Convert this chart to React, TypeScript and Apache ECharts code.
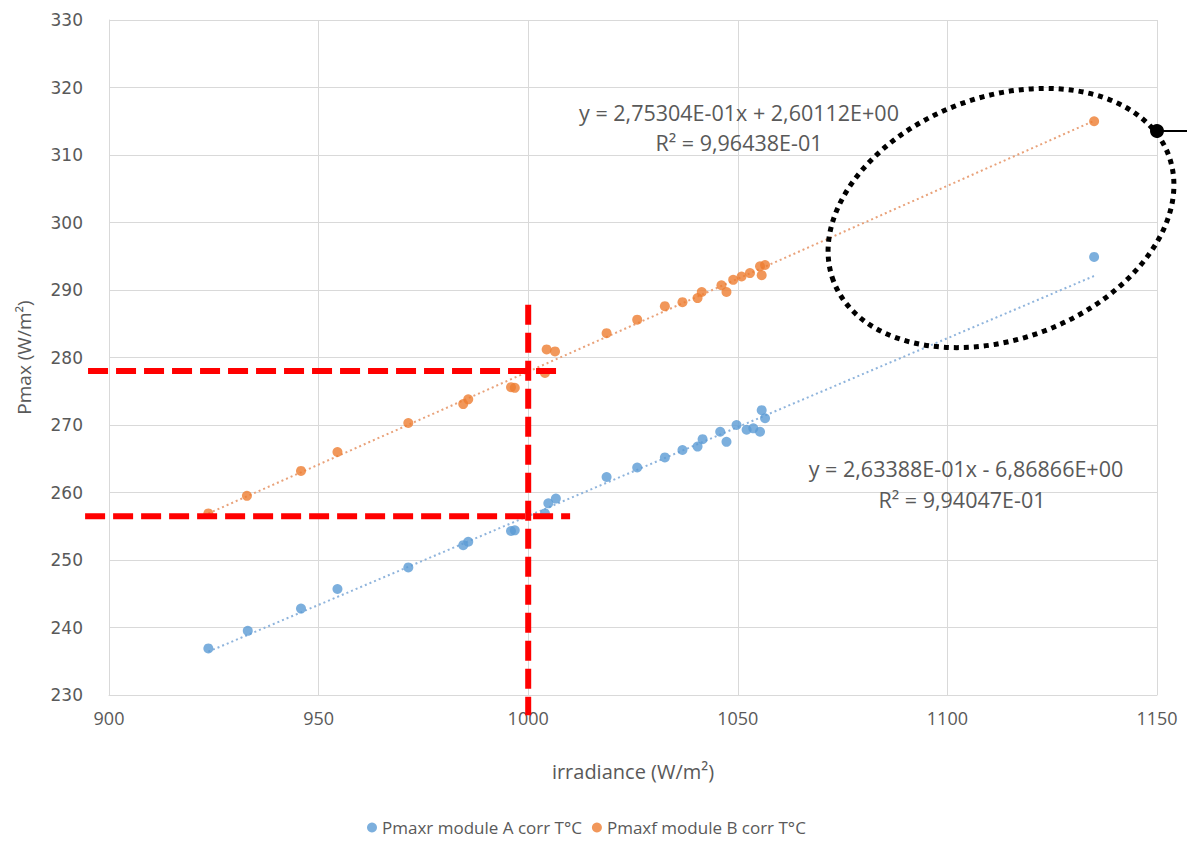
import React, { useEffect, useRef } from "react";
import * as echarts from "echarts";

// Irradiance (W/m²) and Pmax values for module A (blue) and module B (orange)
const irrA = [923.7, 933.1, 945.8, 954.5, 971.4, 984.5, 985.7, 995.9, 996.8, 1004.0, 1004.8, 1006.6, 1018.7, 1026.0, 1032.6, 1036.8, 1040.4, 1041.6, 1045.8, 1047.3, 1049.7, 1052.1, 1053.7, 1055.3, 1055.7, 1056.5, 1135.0];
const pmaxA = [236.9, 239.5, 242.8, 245.7, 248.9, 252.2, 252.7, 254.3, 254.4, 256.9, 258.4, 259.1, 262.3, 263.7, 265.2, 266.3, 266.8, 267.9, 269.0, 267.5, 270.0, 269.3, 269.5, 269.0, 272.2, 271.0, 294.9];
const irrB = [923.7, 932.9, 945.8, 954.5, 971.4, 984.5, 985.7, 995.9, 996.8, 1004.0, 1004.4, 1006.4, 1018.7, 1026.0, 1032.6, 1036.8, 1040.4, 1041.4, 1046.1, 1047.3, 1048.9, 1050.9, 1052.9, 1055.3, 1055.7, 1056.5, 1135.0];
const pmaxB = [256.9, 259.5, 263.2, 266.0, 270.3, 273.1, 273.8, 275.6, 275.5, 277.7, 281.2, 280.9, 283.6, 285.6, 287.6, 288.2, 288.8, 289.7, 290.7, 289.7, 291.5, 292.0, 292.5, 293.5, 292.2, 293.7, 315.0];

// Trendline coefficients (as shown in the chart)
const slopeA = 0.263388;
const interceptA = -6.86866;
const slopeB = 0.275304;
const interceptB = 2.60112;

const eqA = ["y = 2,63388E-01x - 6,86866E+00", "R² = 9,94047E-01"];
const eqB = ["y = 2,75304E-01x + 2,60112E+00", "R² = 9,96438E-01"];

const seriesNames = ["Pmaxr module A corr T°C", "Pmaxf module B corr T°C"];

// Red reference lines (data coordinates)
const refHigh = [[895.0, 278.0], [1008.0, 278.0]];
const refLow = [[894.3, 256.5], [1010.0, 256.5]];
const refVert = [[1000, 287.8], [1000, 227.0]];

const BLUE = "#5b9bd5";
const ORANGE = "#ed7d31";
const GRAY = "#595959";
const FONT = "Open Sans, sans-serif";

function pairs(xs: number[], ys: number[]) {
  return xs.map((x, i) => [x, ys[i]]);
}

function trend(xs: number[], a: number, b: number) {
  const lo = Math.min(...xs);
  const hi = Math.max(...xs);
  return [[lo, a * lo + b], [hi, a * hi + b]];
}

export default function App() {
  const ref = useRef<HTMLDivElement>(null);
  useEffect(() => {
    document.body.style.margin = "0";
    const chart = echarts.init(ref.current!, null, { renderer: "svg" });
    const eqText = (text: string, x: number, y: number) => ({
      type: "text",
      x,
      y,
      style: { text, fill: GRAY, fontSize: 21.5, fontFamily: FONT, align: "center", verticalAlign: "middle" },
    });
    chart.setOption({
      animation: false,
      backgroundColor: "#ffffff",
      grid: { left: 109, right: 30, top: 20, bottom: 150 },
      xAxis: {
        type: "value",
        min: 900,
        max: 1150,
        interval: 50,
        name: "irradiance (W/m²)",
        nameLocation: "middle",
        nameGap: 66,
        nameTextStyle: { color: GRAY, fontSize: 20, fontFamily: FONT },
        axisLine: { show: true, lineStyle: { color: "#d9d9d9", width: 1 } },
        axisTick: { show: false },
        splitLine: { show: true, lineStyle: { color: "#d9d9d9", width: 1 } },
        axisLabel: { color: GRAY, fontSize: 18, margin: 14, fontFamily: FONT, formatter: (v: number) => String(v) },
      },
      yAxis: {
        type: "value",
        min: 230,
        max: 330,
        interval: 10,
        name: "Pmax (W/m²)",
        nameLocation: "middle",
        nameGap: 76,
        nameTextStyle: { color: GRAY, fontSize: 19, fontFamily: FONT },
        axisLine: { show: true, lineStyle: { color: "#d9d9d9", width: 1 } },
        axisTick: { show: false },
        splitLine: { show: true, lineStyle: { color: "#d9d9d9", width: 1 } },
        axisLabel: { color: GRAY, fontSize: 17, margin: 26, fontFamily: "DejaVu Sans, sans-serif" },
      },
      legend: {
        data: seriesNames,
        bottom: 4,
        left: 362,
        icon: "circle",
        itemWidth: 10,
        itemHeight: 10,
        itemGap: 10,
        textStyle: { color: GRAY, fontSize: 17, fontFamily: FONT },
      },
      series: [
        {
          name: "trendA",
          type: "line",
          data: trend(irrA, slopeA, interceptA),
          symbol: "none",
          z: 1,
          silent: true,
          lineStyle: { color: "#8fb4dc", width: 2, type: [2, 3] },
        },
        {
          name: "trendB",
          type: "line",
          data: trend(irrB, slopeB, interceptB),
          symbol: "none",
          z: 1,
          silent: true,
          lineStyle: { color: "#e9a27a", width: 2, type: [2, 3] },
        },
        {
          name: seriesNames[0],
          type: "scatter",
          data: pairs(irrA, pmaxA),
          symbol: "circle",
          symbolSize: 10,
          z: 3,
          itemStyle: { color: BLUE },
        },
        {
          name: seriesNames[1],
          type: "scatter",
          data: pairs(irrB, pmaxB),
          symbol: "circle",
          symbolSize: 10,
          z: 3,
          itemStyle: { color: ORANGE },
        },
      ],
    });

    const toPx = (p: number[]) => chart.convertToPixel({ gridIndex: 0 }, p) as number[];
    const redLine = (seg: number[][]) => {
      const a = toPx(seg[0]);
      const b = toPx(seg[1]);
      return {
        type: "line",
        z: 100,
        silent: true,
        shape: { x1: a[0], y1: a[1], x2: b[0], y2: b[1] },
        style: { stroke: "#ff0000", lineWidth: 6, lineDash: [20, 8] },
      };
    };

    chart.setOption({
      graphic: [
        eqText(eqB[0], 739, 112),
        eqText(eqB[1], 739, 142),
        eqText(eqA[0], 966, 468),
        eqText(eqA[1], 962, 499),
        redLine(refHigh),
        redLine(refLow),
        redLine(refVert),
        {
          type: "ellipse",
          x: 1001,
          y: 218,
          rotation: 0.36,
          shape: { cx: 0, cy: 0, rx: 179, ry: 121 },
          z: 110,
          style: { fill: "none", stroke: "#000000", lineWidth: 5, lineDash: [5, 5] },
        },
        {
          type: "line",
          shape: { x1: 1157, y1: 131, x2: 1187, y2: 131 },
          z: 110,
          style: { stroke: "#000000", lineWidth: 2 },
        },
        {
          type: "circle",
          shape: { cx: 1157, cy: 131, r: 7 },
          z: 111,
          style: { fill: "#000000" },
        },
      ],
    });
    return () => chart.dispose();
  }, []);
  return <div ref={ref} style={{ width: 1187, height: 845 }} />;
}
